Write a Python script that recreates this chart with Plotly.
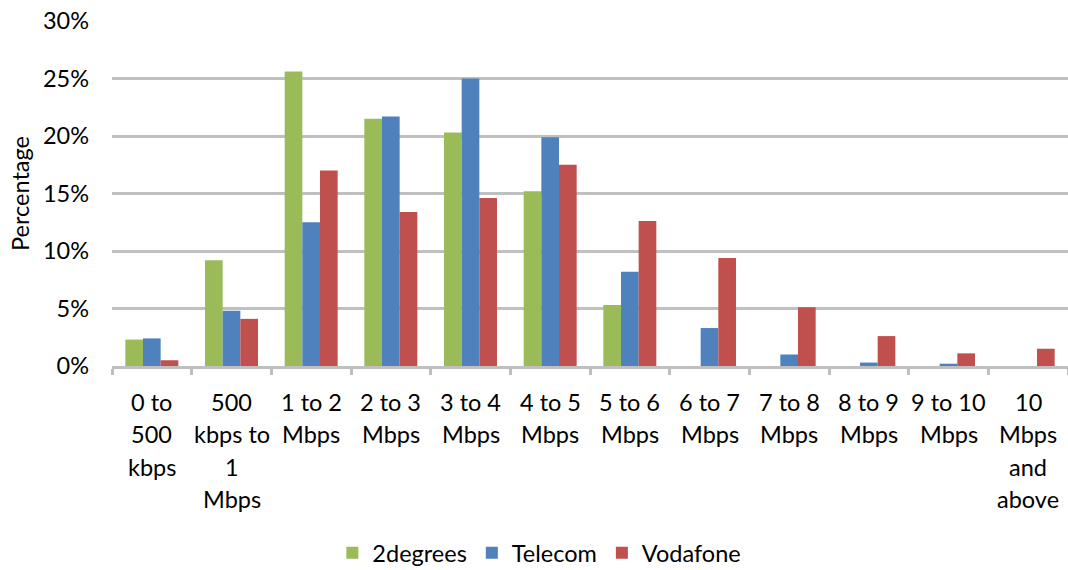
import plotly.graph_objects as go

categories = ["0 to 500 kbps", "500 kbps to 1 Mbps", "1 to 2 Mbps", "2 to 3 Mbps",
              "3 to 4 Mbps", "4 to 5 Mbps", "5 to 6 Mbps", "6 to 7 Mbps",
              "7 to 8 Mbps", "8 to 9 Mbps", "9 to 10 Mbps", "10 Mbps and above"]
label_lines = [["0 to", "500", "kbps"], ["500", "kbps to", "1", "Mbps"],
               ["1 to 2", "Mbps"], ["2 to 3", "Mbps"], ["3 to 4", "Mbps"],
               ["4 to 5", "Mbps"], ["5 to 6", "Mbps"], ["6 to 7", "Mbps"],
               ["7 to 8", "Mbps"], ["8 to 9", "Mbps"], ["9 to 10", "Mbps"],
               ["10", "Mbps", "and", "above"]]
twodegrees = [2.3, 9.2, 25.6, 21.5, 20.3, 15.2, 5.3, 0, 0, 0, 0, 0]
telecom = [2.4, 4.8, 12.5, 21.7, 25.0, 19.9, 8.2, 3.3, 1.0, 0.3, 0.2, 0]
vodafone = [0.5, 4.1, 17.0, 13.4, 14.6, 17.5, 12.6, 9.4, 5.1, 2.6, 1.1, 1.5]

series = [("2degrees", twodegrees, "#9BBB59"),
          ("Telecom", telecom, "#4F81BD"),
          ("Vodafone", vodafone, "#C0504D")]

FONT = "Lato, Carlito, Calibri, sans-serif"
FS = 23.5

fig = go.Figure()
for name, vals, color in series:
    fig.add_trace(go.Bar(
        x=categories, y=[v / 100 for v in vals], name=name,
        marker=dict(color=color, line=dict(width=0)),
    ))

annotations = []
for i, lines in enumerate(label_lines):
    for j, line in enumerate(lines):
        annotations.append(dict(
            x=i, y=0, xref="x", yref="y", text=line, showarrow=False,
            xanchor="center", yanchor="middle", yshift=-36 - 32.3 * j,
            font=dict(family=FONT, size=FS, color="#000000"),
        ))

fig.update_layout(
    width=1068, height=570,
    margin=dict(l=112, r=0, t=21, b=204),
    paper_bgcolor="white", plot_bgcolor="white",
    barmode="group", bargap=0.335, bargroupgap=0,
    font=dict(family=FONT, size=FS, color="#000000"),
    showlegend=True,
    legend=dict(orientation="h", xref="container", yref="container",
                x=0.505, xanchor="center", y=0.03, yanchor="middle",
                font=dict(family=FONT, size=FS), itemsizing="constant",
                traceorder="normal"),
    annotations=annotations,
    xaxis=dict(
        type="category", showticklabels=False, showgrid=False,
        showline=True, linecolor="#BFBFBF", linewidth=3,
        ticks="outside", tickson="boundaries", ticklen=6, tickwidth=3,
        tickcolor="#BFBFBF", zeroline=False,
    ),
    yaxis=dict(
        range=[0, 0.30], tickvals=[0, 0.05, 0.10, 0.15, 0.20, 0.25, 0.30],
        tickformat=".0%", showgrid=True, gridcolor="#C0C0C0", gridwidth=3,
        zeroline=False, showline=False, ticks="", ticklabelstandoff=22,
        tickfont=dict(family=FONT, size=FS),
        title=dict(text="Percentage", standoff=6,
                   font=dict(family=FONT, size=FS)),
    ),
)

fig.write_html("out.html")
